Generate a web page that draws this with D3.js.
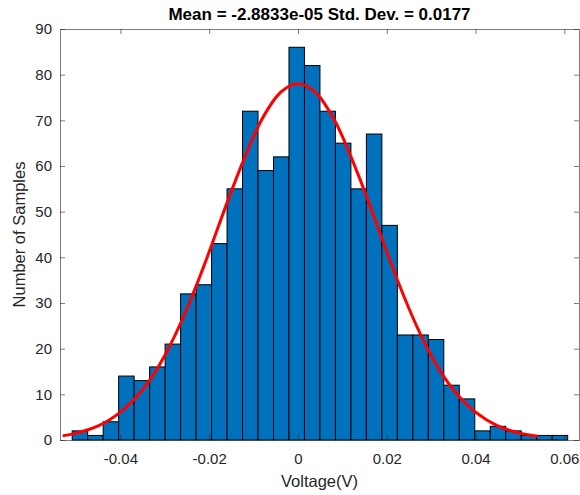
<!DOCTYPE html>
<html><head><meta charset="utf-8">
<script src="https://cdn.jsdelivr.net/npm/d3@7"></script>
<style>
html,body{margin:0;padding:0;background:#fff;}
svg text{font-family:"Liberation Sans",Arial,Helvetica,sans-serif;}
</style>
</head><body>
<svg id="chart" width="580" height="495"></svg>
<script>
// ---- data ----
const titleText = "Mean = -2.8833e-05 Std. Dev. = 0.0177";
const xLabel = "Voltage(V)";
const yLabel = "Number of Samples";
const binStart = -0.05085;
const binWidth = 0.0034875;
const counts = [2,1,4,14,13,16,21,32,34,43,55,72,59,62,86,82,72,65,55,67,47,23,23,22,12,9,2,3,2,1,1,1];
const fitX = [-0.053,-0.05,-0.045,-0.04,-0.035,-0.03,-0.025,-0.02,-0.015,-0.01,-0.0075,-0.005,-0.0025,0,0.0025,0.005,0.0075,0.01,0.015,0.02,0.025,0.03,0.035,0.04,0.045,0.05,0.054];
const fitY = [0.9,1.5,3.1,6.1,11.0,18.5,28.8,41.2,54.5,66.5,71.3,75.0,77.2,78.0,77.2,75.0,71.3,66.5,54.5,41.2,28.8,18.5,11.0,6.1,3.1,1.5,0.8];
const xTicks = [-0.04,-0.02,0,0.02,0.04,0.06];
const xTickLabels = ["-0.04","-0.02","0","0.02","0.04","0.06"];
const yTicks = [0,10,20,30,40,50,60,70,80,90];
const yTickLabels = ["0","10","20","30","40","50","60","70","80","90"];

// ---- layout ----
const L = 60, R = 579, T = 29, B = 440;
const svg = d3.select("#chart");
const x = d3.scaleLinear().domain([-0.0536, 0.0633]).range([L, R]);
const y = d3.scaleLinear().domain([0, 90]).range([B, T]);
const axisColor = "#262626";

// bars
svg.append("g").selectAll("rect").data(counts).join("rect")
  .attr("x", (d,i) => x(binStart + i*binWidth))
  .attr("width", (d,i) => x(binStart + (i+1)*binWidth) - x(binStart + i*binWidth))
  .attr("y", d => y(d))
  .attr("height", d => y(0) - y(d))
  .attr("fill", "#0072BD")
  .attr("stroke", "#000")
  .attr("stroke-width", 1);

// fit curve
const pts = fitX.map((v,i) => [v, fitY[i]]);
svg.append("path").datum(pts)
  .attr("d", d3.line().x(d => x(d[0])).y(d => y(d[1])).curve(d3.curveNatural))
  .attr("fill", "none").attr("stroke", "#FF0000").attr("stroke-width", 3);

// axes
function styleAxis(g){
  g.select(".domain").remove();
  g.selectAll(".tick line").attr("stroke", axisColor).attr("stroke-opacity", 0.6);
  g.selectAll(".tick text").attr("fill", axisColor).style("font-size", "15px");
}
svg.append("g").attr("transform", `translate(0,${B})`)
  .call(d3.axisBottom(x).tickValues(xTicks).tickSize(-5).tickPadding(13)
    .tickFormat((d,i) => xTickLabels[i]))
  .call(styleAxis);
svg.append("g").attr("transform", `translate(0,${T})`)
  .call(d3.axisTop(x).tickValues(xTicks).tickSize(-5).tickFormat(""))
  .call(styleAxis);
svg.append("g").attr("transform", `translate(${L},0)`)
  .call(d3.axisLeft(y).tickValues(yTicks).tickSize(-5).tickPadding(8)
    .tickFormat((d,i) => yTickLabels[i]))
  .call(styleAxis);
svg.append("g").attr("transform", `translate(${R},0)`)
  .call(d3.axisRight(y).tickValues(yTicks).tickSize(-5).tickFormat(""))
  .call(styleAxis);

// box
svg.append("rect").attr("x", L).attr("y", T).attr("width", R-L).attr("height", B-T)
  .attr("fill", "none").attr("stroke", axisColor).attr("stroke-opacity", 0.6).attr("stroke-width", 1)
  .attr("shape-rendering", "crispEdges");

// title & labels
svg.append("text").attr("x", (L+R)/2).attr("y", 19.5).attr("text-anchor", "middle")
  .style("font-size", "17px").style("font-weight", "bold").attr("fill", "#000").text(titleText);
svg.append("text").attr("x", (L+R)/2).attr("y", 487).attr("text-anchor", "middle")
  .style("font-size", "16.5px").attr("fill", axisColor).text(xLabel);
svg.append("text").attr("transform", `translate(24.5,${(T+B)/2}) rotate(-90)`).attr("text-anchor", "middle")
  .style("font-size", "16.5px").attr("fill", axisColor).text(yLabel);
</script>
</body></html>
